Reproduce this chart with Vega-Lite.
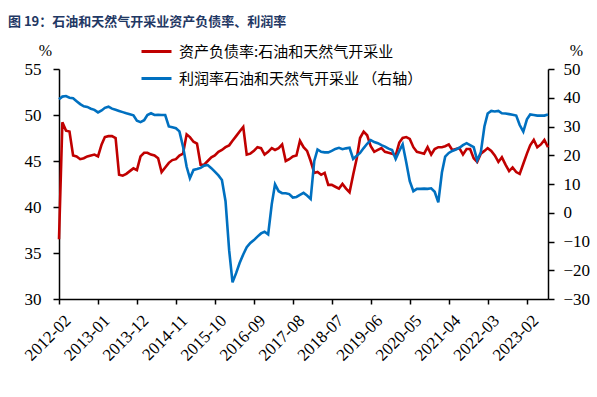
{
  "$schema": "https://vega.github.io/schema/vega-lite/v6.json",
  "width": 489,
  "height": 230,
  "autosize": {"type": "none"},
  "padding": {"left": 59, "top": 69, "right": 49, "bottom": 98},
  "background": "white",
  "title": {
    "text": "图 19：石油和天然气开采业资产负债率、利润率",
    "anchor": "start",
    "frame": "group",
    "font": "Noto Sans CJK SC",
    "fontSize": 13,
    "fontWeight": "bold",
    "color": "#1F3864",
    "dx": -51,
    "offset": 6
  },
  "config": {
    "view": {"stroke": null},
    "axis": {"grid": false, "domainColor": "#000000", "tickColor": "#000000", "domainWidth": 1.5, "tickWidth": 1.5, "labelColor": "#000000", "labelFont": "Liberation Serif"}
  },
  "data": {
    "values": [
      {"d": "2012-02-01", "debt": 36.5, "profit": 39.5},
      {"d": "2012-03-01", "debt": 49.2, "profit": 40.4},
      {"d": "2012-04-01", "debt": 48.3, "profit": 40.6},
      {"d": "2012-05-01", "debt": 48.2, "profit": 40.0},
      {"d": "2012-06-01", "debt": 45.6, "profit": 39.8},
      {"d": "2012-07-01", "debt": 45.5, "profit": 38.8},
      {"d": "2012-08-01", "debt": 45.2, "profit": 37.8},
      {"d": "2012-09-01", "debt": 45.3, "profit": 37.0},
      {"d": "2012-10-01", "debt": 45.5, "profit": 36.8},
      {"d": "2012-11-01", "debt": 45.6, "profit": 36.2},
      {"d": "2012-12-01", "debt": 45.7, "profit": 35.8},
      {"d": "2013-01-01", "debt": 45.5, "profit": 34.9},
      {"d": "2013-02-01", "debt": 46.8, "profit": 35.6},
      {"d": "2013-03-01", "debt": 47.6, "profit": 36.5},
      {"d": "2013-04-01", "debt": 47.7, "profit": 36.9},
      {"d": "2013-05-01", "debt": 47.7, "profit": 36.2},
      {"d": "2013-06-01", "debt": 47.5, "profit": 35.8},
      {"d": "2013-07-01", "debt": 43.5, "profit": 35.4},
      {"d": "2013-08-01", "debt": 43.4, "profit": 35.0},
      {"d": "2013-09-01", "debt": 43.6, "profit": 34.6},
      {"d": "2013-10-01", "debt": 43.9, "profit": 34.3},
      {"d": "2013-11-01", "debt": 44.2, "profit": 33.9},
      {"d": "2013-12-01", "debt": 44.0, "profit": 32.0},
      {"d": "2014-01-01", "debt": 45.5, "profit": 31.5},
      {"d": "2014-02-01", "debt": 45.9, "profit": 32.2},
      {"d": "2014-03-01", "debt": 45.9, "profit": 34.0},
      {"d": "2014-04-01", "debt": 45.7, "profit": 34.6},
      {"d": "2014-05-01", "debt": 45.6, "profit": 34.0},
      {"d": "2014-06-01", "debt": 45.3, "profit": 34.1},
      {"d": "2014-07-01", "debt": 43.8, "profit": 34.0},
      {"d": "2014-08-01", "debt": 44.3, "profit": 34.0},
      {"d": "2014-09-01", "debt": 44.8, "profit": 30.0},
      {"d": "2014-10-01", "debt": 45.1, "profit": 29.7},
      {"d": "2014-11-01", "debt": 45.2, "profit": 29.4},
      {"d": "2014-12-01", "debt": 45.6, "profit": 28.3},
      {"d": "2015-01-01", "debt": 45.8, "profit": 23.0},
      {"d": "2015-02-01", "debt": 47.9, "profit": 16.0},
      {"d": "2015-03-01", "debt": 47.6, "profit": 12.0},
      {"d": "2015-04-01", "debt": 47.1, "profit": 14.9},
      {"d": "2015-05-01", "debt": 46.9, "profit": 15.2},
      {"d": "2015-06-01", "debt": 44.6, "profit": 15.6},
      {"d": "2015-07-01", "debt": 44.6, "profit": 16.4},
      {"d": "2015-08-01", "debt": 45.0, "profit": 16.6},
      {"d": "2015-09-01", "debt": 45.4, "profit": 15.5},
      {"d": "2015-10-01", "debt": 45.6, "profit": 14.3},
      {"d": "2015-11-01", "debt": 46.0, "profit": 13.0},
      {"d": "2015-12-01", "debt": 46.2, "profit": 11.4},
      {"d": "2016-01-01", "debt": 46.5, "profit": 4.0},
      {"d": "2016-02-01", "debt": 46.7, "profit": -13.0},
      {"d": "2016-03-01", "debt": 47.2, "profit": -24.2},
      {"d": "2016-04-01", "debt": 47.7, "profit": -21.0},
      {"d": "2016-05-01", "debt": 48.2, "profit": -17.5},
      {"d": "2016-06-01", "debt": 48.7, "profit": -14.5},
      {"d": "2016-07-01", "debt": 45.7, "profit": -12.0},
      {"d": "2016-08-01", "debt": 45.8, "profit": -10.5},
      {"d": "2016-09-01", "debt": 46.1, "profit": -9.5},
      {"d": "2016-10-01", "debt": 46.5, "profit": -8.3},
      {"d": "2016-11-01", "debt": 46.4, "profit": -7.2},
      {"d": "2016-12-01", "debt": 45.7, "profit": -6.6},
      {"d": "2017-01-01", "debt": 46.0, "profit": -7.5},
      {"d": "2017-02-01", "debt": 46.4, "profit": 3.0},
      {"d": "2017-03-01", "debt": 46.2, "profit": 9.9},
      {"d": "2017-04-01", "debt": 46.4, "profit": 7.5},
      {"d": "2017-05-01", "debt": 46.8, "profit": 6.8},
      {"d": "2017-06-01", "debt": 45.0, "profit": 6.8},
      {"d": "2017-07-01", "debt": 45.2, "profit": 6.5},
      {"d": "2017-08-01", "debt": 45.5, "profit": 5.3},
      {"d": "2017-09-01", "debt": 45.6, "profit": 5.5},
      {"d": "2017-10-01", "debt": 47.2, "profit": 6.2},
      {"d": "2017-11-01", "debt": 46.5, "profit": 6.9},
      {"d": "2017-12-01", "debt": 46.1, "profit": 6.0},
      {"d": "2018-01-01", "debt": 45.0, "profit": 4.8},
      {"d": "2018-02-01", "debt": 43.7, "profit": 18.0},
      {"d": "2018-03-01", "debt": 43.8, "profit": 22.0},
      {"d": "2018-04-01", "debt": 43.5, "profit": 21.2},
      {"d": "2018-05-01", "debt": 43.7, "profit": 21.0},
      {"d": "2018-06-01", "debt": 42.4, "profit": 21.0},
      {"d": "2018-07-01", "debt": 42.4, "profit": 21.5},
      {"d": "2018-08-01", "debt": 42.2, "profit": 22.2},
      {"d": "2018-09-01", "debt": 42.0, "profit": 22.6},
      {"d": "2018-10-01", "debt": 42.5, "profit": 22.1},
      {"d": "2018-11-01", "debt": 42.0, "profit": 22.4},
      {"d": "2018-12-01", "debt": 41.6, "profit": 22.6},
      {"d": "2019-01-01", "debt": 43.5, "profit": 18.7},
      {"d": "2019-02-01", "debt": 45.3, "profit": 19.8},
      {"d": "2019-03-01", "debt": 47.5, "profit": 20.8},
      {"d": "2019-04-01", "debt": 48.2, "profit": 22.5},
      {"d": "2019-05-01", "debt": 47.8, "profit": 24.0},
      {"d": "2019-06-01", "debt": 46.6, "profit": 25.3},
      {"d": "2019-07-01", "debt": 46.0, "profit": 24.6},
      {"d": "2019-08-01", "debt": 46.2, "profit": 24.2},
      {"d": "2019-09-01", "debt": 46.4, "profit": 23.5},
      {"d": "2019-10-01", "debt": 46.0, "profit": 23.0},
      {"d": "2019-11-01", "debt": 45.9, "profit": 22.3},
      {"d": "2019-12-01", "debt": 45.8, "profit": 21.8},
      {"d": "2020-01-01", "debt": 45.6, "profit": 18.7},
      {"d": "2020-02-01", "debt": 47.0, "profit": 21.5},
      {"d": "2020-03-01", "debt": 47.5, "profit": 23.8},
      {"d": "2020-04-01", "debt": 47.6, "profit": 17.5},
      {"d": "2020-05-01", "debt": 47.4, "profit": 11.0},
      {"d": "2020-06-01", "debt": 46.5, "profit": 7.5},
      {"d": "2020-07-01", "debt": 46.0, "profit": 8.3},
      {"d": "2020-08-01", "debt": 45.9, "profit": 8.3},
      {"d": "2020-09-01", "debt": 45.8, "profit": 8.4},
      {"d": "2020-10-01", "debt": 46.5, "profit": 8.3},
      {"d": "2020-11-01", "debt": 45.7, "profit": 8.5},
      {"d": "2020-12-01", "debt": 46.3, "profit": 7.3},
      {"d": "2021-01-01", "debt": 46.5, "profit": 3.6},
      {"d": "2021-02-01", "debt": 46.5, "profit": 14.0},
      {"d": "2021-03-01", "debt": 46.6, "profit": 19.5},
      {"d": "2021-04-01", "debt": 46.8, "profit": 20.8},
      {"d": "2021-05-01", "debt": 46.2, "profit": 21.5},
      {"d": "2021-06-01", "debt": 46.3, "profit": 22.0},
      {"d": "2021-07-01", "debt": 46.4, "profit": 22.6},
      {"d": "2021-08-01", "debt": 45.7, "profit": 23.5},
      {"d": "2021-09-01", "debt": 46.3, "profit": 24.2},
      {"d": "2021-10-01", "debt": 46.3, "profit": 23.5},
      {"d": "2021-11-01", "debt": 45.3, "profit": 22.8},
      {"d": "2021-12-01", "debt": 44.9, "profit": 18.2},
      {"d": "2022-01-01", "debt": 45.8, "profit": 21.0},
      {"d": "2022-02-01", "debt": 46.1, "profit": 30.0},
      {"d": "2022-03-01", "debt": 46.4, "profit": 34.5},
      {"d": "2022-04-01", "debt": 46.1, "profit": 35.4},
      {"d": "2022-05-01", "debt": 45.6, "profit": 35.2},
      {"d": "2022-06-01", "debt": 44.9, "profit": 35.4},
      {"d": "2022-07-01", "debt": 45.4, "profit": 34.6},
      {"d": "2022-08-01", "debt": 44.6, "profit": 34.5},
      {"d": "2022-09-01", "debt": 43.9, "profit": 34.3},
      {"d": "2022-10-01", "debt": 44.3, "profit": 34.1},
      {"d": "2022-11-01", "debt": 43.8, "profit": 33.8},
      {"d": "2022-12-01", "debt": 43.6, "profit": 30.5},
      {"d": "2023-01-01", "debt": 44.7, "profit": 28.2},
      {"d": "2023-02-01", "debt": 45.8, "profit": 32.5},
      {"d": "2023-03-01", "debt": 46.7, "profit": 34.2},
      {"d": "2023-04-01", "debt": 47.3, "profit": 34.0},
      {"d": "2023-05-01", "debt": 46.5, "profit": 33.8},
      {"d": "2023-06-01", "debt": 46.8, "profit": 33.8},
      {"d": "2023-07-01", "debt": 47.3, "profit": 33.8},
      {"d": "2023-08-01", "debt": 46.5, "profit": 34.2}
    ]
  },
  "encoding": {
    "x": {
      "field": "d",
      "type": "temporal",
      "scale": {"type": "utc", "nice": false},
      "axis": {
        "title": null,
        "format": "%Y-%m",
        "labelAngle": -45,
        "labelAlign": "right",
        "labelBaseline": "top",
        "labelFontSize": 17,
        "labelPadding": 8,
        "labelOffset": 3,
        "tickSize": 5,
        "labelOverlap": false,
        "values": [
          {"year": 2012, "month": 2, "date": 1, "utc": true},
          {"year": 2013, "month": 1, "date": 1, "utc": true},
          {"year": 2013, "month": 12, "date": 1, "utc": true},
          {"year": 2014, "month": 11, "date": 1, "utc": true},
          {"year": 2015, "month": 10, "date": 1, "utc": true},
          {"year": 2016, "month": 9, "date": 1, "utc": true},
          {"year": 2017, "month": 8, "date": 1, "utc": true},
          {"year": 2018, "month": 7, "date": 1, "utc": true},
          {"year": 2019, "month": 6, "date": 1, "utc": true},
          {"year": 2020, "month": 5, "date": 1, "utc": true},
          {"year": 2021, "month": 4, "date": 1, "utc": true},
          {"year": 2022, "month": 3, "date": 1, "utc": true},
          {"year": 2023, "month": 2, "date": 1, "utc": true}
        ]
      }
    }
  },
  "layer": [
    {
      "mark": {"type": "line", "strokeWidth": 2.6},
      "encoding": {
        "y": {
          "field": "debt",
          "type": "quantitative",
          "scale": {"domain": [30, 55], "nice": false, "zero": false},
          "axis": {
            "values": [30, 35, 40, 45, 50, 55],
            "labelFontSize": 17,
            "tickSize": 6,
            "labelPadding": 12,
            "title": "%",
            "titleAngle": 0,
            "titleFont": "Liberation Serif",
            "titleFontSize": 16,
            "titleFontWeight": "normal",
            "titleX": -14,
            "titleY": -19,
            "titleAlign": "center",
            "titleBaseline": "middle"
          }
        },
        "color": {
          "datum": "资产负债率:石油和天然气开采业",
          "type": "nominal",
          "scale": {
            "domain": ["资产负债率:石油和天然气开采业", "利润率石油和天然气开采业 （右轴）"],
            "range": ["#C00000", "#0070C0"]
          },
          "legend": {
            "title": null,
            "orient": "none",
            "legendX": 81,
            "legendY": -34,
            "direction": "vertical",
            "symbolType": "stroke",
            "symbolSize": 900,
            "symbolStrokeWidth": 3,
            "labelFont": "Noto Sans CJK SC",
            "labelFontSize": 15,
            "labelFontWeight": "normal",
            "labelColor": "#000000",
            "labelLimit": 0,
            "labelOffset": 6,
            "rowPadding": 2,
            "padding": 0
          }
        }
      }
    },
    {
      "mark": {"type": "line", "strokeWidth": 2.6},
      "encoding": {
        "y": {
          "field": "profit",
          "type": "quantitative",
          "scale": {"domain": [-30, 50], "nice": false, "zero": false},
          "axis": {
            "orient": "right",
            "values": [-30, -20, -10, 0, 10, 20, 30, 40, 50],
            "labelFontSize": 17,
            "tickSize": 6,
            "labelPadding": 9,
            "title": "%",
            "titleAngle": 0,
            "titleFont": "Liberation Serif",
            "titleFontSize": 16,
            "titleFontWeight": "normal",
            "titleX": 28,
            "titleY": -19,
            "titleAlign": "center",
            "titleBaseline": "middle"
          }
        },
        "color": {"datum": "利润率石油和天然气开采业 （右轴）", "type": "nominal"}
      }
    }
  ],
  "resolve": {"scale": {"y": "independent"}}
}
